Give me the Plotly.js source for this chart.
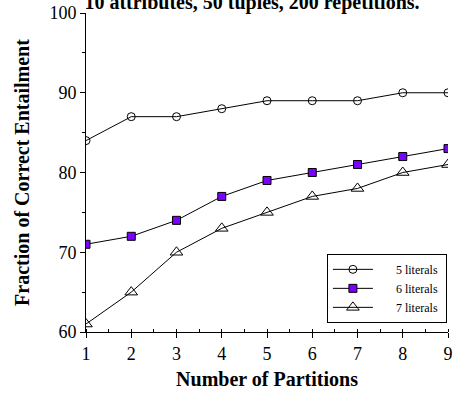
<!DOCTYPE html>
<html>
<head>
<meta charset="utf-8">
<script src="https://cdn.plot.ly/plotly-3.0.1.min.js"></script>
<style>html,body{margin:0;padding:0;background:#fff;}#chart{width:455px;height:396px;}</style>
</head>
<body>
<div id="chart"></div>
<script>
const partitions = [1, 2, 3, 4, 5, 6, 7, 8, 9];
const lit5 = [84, 87, 87, 88, 89, 89, 89, 90, 90];
const lit6 = [71, 72, 74, 77, 79, 80, 81, 82, 83];
const lit7 = [61, 65, 70, 73, 75, 77, 78, 80, 81];
const seriesNames = ["5 literals", "6 literals", "7 literals"];
const xTicks = [1, 2, 3, 4, 5, 6, 7, 8, 9];
const yTicks = [60, 70, 80, 90, 100];

const FONT = "Liberation Serif, Times New Roman, serif";
const lead = "\u00a0\u00a0\u00a0\u00a0\u00a0\u00a0";
const trail = "\u00a0";

const traces = [
  {x: partitions, y: lit5, name: lead + seriesNames[0] + trail, mode: "lines+markers",
   line: {color: "#000", width: 1},
   marker: {symbol: "circle-open", size: 8, color: "#000", line: {width: 1}}},
  {x: partitions, y: lit6, name: lead + seriesNames[1] + trail, mode: "lines+markers",
   line: {color: "#000", width: 1},
   marker: {symbol: "square", size: 8, color: "#7a00ff", line: {width: 1, color: "#000"}}},
  {x: partitions, y: lit7, name: lead + seriesNames[2] + trail, mode: "lines+markers",
   line: {color: "#000", width: 1},
   marker: {symbol: "triangle-up-open", size: 11, color: "#000", line: {width: 1}}}
];

const layout = {
  width: 455, height: 396,
  margin: {l: 86, r: 7, t: 13, b: 64},
  paper_bgcolor: "#fff", plot_bgcolor: "#fff",
  font: {family: FONT, color: "#000", size: 18},
  title: {text: "<b>10 attributes, 50 tuples, 200 repetitions.</b>",
          font: {family: FONT, size: 20, color: "#000"},
          x: 252/455, xanchor: "center", xref: "container",
          y: 1 - 9/396, yanchor: "bottom", yref: "container"},
  xaxis: {range: [1, 9], tickvals: xTicks, ticktext: xTicks.map(String),
          showgrid: false, zeroline: false, showline: true, linecolor: "#000", linewidth: 1,
          ticks: "outside", ticklen: 5, tickcolor: "#000",
          minor: {dtick: 0.5, ticks: "inside", ticklen: 3, tickcolor: "#000", showgrid: false},
          tickfont: {family: FONT, size: 18},
          title: {text: "<b>Number of Partitions</b>", font: {family: FONT, size: 20}, standoff: 9}},
  yaxis: {range: [60, 100], tickvals: yTicks, ticktext: yTicks.map(String),
          showgrid: false, zeroline: false, showline: true, linecolor: "#000", linewidth: 1,
          ticks: "outside", ticklen: 5, tickcolor: "#000",
          minor: {dtick: 5, ticks: "outside", ticklen: 3, tickcolor: "#000", showgrid: false},
          tickfont: {family: FONT, size: 18},
          title: {text: "<b>Fraction of Correct Entailment</b>", font: {family: FONT, size: 20}, standoff: 14}},
  showlegend: true,
  legend: {x: 0.997, xanchor: "right", y: 0.245, yanchor: "top",
           bordercolor: "#000", borderwidth: 1, bgcolor: "#fff",
           font: {family: FONT, size: 12}, tracegroupgap: 0, itemwidth: 40},
};

Plotly.newPlot("chart", traces, layout, {staticPlot: true, displayModeBar: false});
</script>
</body>
</html>
